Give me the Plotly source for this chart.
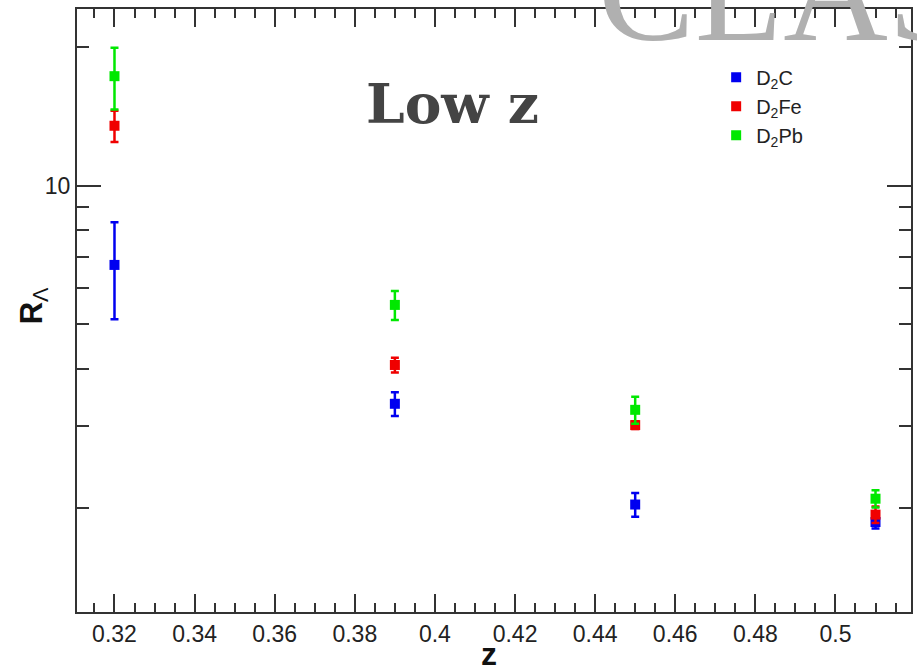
import plotly.graph_objects as go

# ---- data ----
z_vals = [0.32, 0.39, 0.45, 0.51]
r_c = [6.73, 3.36, 2.03, 1.86]
r_c_err = [1.6, 0.2, 0.12, 0.06]
r_fe = [13.5, 4.08, 3.02, 1.93]
r_fe_err = [1.05, 0.15, 0.06, 0.08]
r_pb = [17.3, 5.51, 3.26, 2.09]
r_pb_err = [2.65, 0.4, 0.22, 0.09]

series_names = ["D<sub>2</sub>C", "D<sub>2</sub>Fe", "D<sub>2</sub>Pb"]
series_colors = ["#0000f0", "#f00000", "#00e800"]

x_major = [0.32, 0.34, 0.36, 0.38, 0.40, 0.42, 0.44, 0.46, 0.48, 0.50]
x_labels = ["0.32", "0.34", "0.36", "0.38", "0.4", "0.42", "0.44", "0.46", "0.48", "0.5"]
y_major = [10]
y_labels = ["10"]
y_minor = [2, 3, 4, 5, 6, 7, 8, 9, 20]

fig = go.Figure()
for name, col, ys, es in zip(series_names, series_colors,
                             [r_c, r_fe, r_pb], [r_c_err, r_fe_err, r_pb_err]):
    fig.add_trace(go.Scatter(
        x=z_vals, y=ys, name=name, mode="markers",
        marker=dict(symbol="square", size=10, color=col),
        error_y=dict(type="data", array=es, visible=True, color=col,
                     thickness=2.5, width=4),
    ))

axis_col = "#333333"


def px_x(px):
    return (px - 76.7) / 836.8


def px_y(py):
    return (612 - py) / 602.7


fig.update_layout(
    width=917, height=672,
    margin=dict(l=77, r=3.5, t=9.3, b=60, pad=0),
    paper_bgcolor="white", plot_bgcolor="white",
    font=dict(family="Liberation Sans, Arial, sans-serif", color="#222222"),
    showlegend=True,
    legend=dict(x=px_x(718), y=px_y(58),
                xanchor="left", yanchor="top",
                bgcolor="rgba(255,255,255,0)", borderwidth=0,
                font=dict(size=20, family="Liberation Sans, Arial, sans-serif",
                          color="#222222"),
                itemwidth=30, tracegroupgap=0),
    xaxis=dict(
        range=[0.31064, 0.51886], showline=True, linecolor=axis_col, linewidth=2,
        mirror="allticks", ticks="inside", ticklen=18, tickwidth=1.5,
        tickcolor=axis_col, tickmode="array", tickvals=x_major, ticktext=x_labels,
        tickfont=dict(size=23, family="Liberation Sans, Arial, sans-serif",
                      color="#222222"),
        showgrid=False, zeroline=False,
        minor=dict(dtick=0.005, tick0=0.30, ticks="inside", ticklen=9,
                   tickwidth=1.5, tickcolor=axis_col, showgrid=False),
    ),
    yaxis=dict(
        type="log", range=[0.074, 1.384], showline=True, linecolor=axis_col,
        linewidth=2, mirror="allticks", ticks="inside", ticklen=24, tickwidth=1.5,
        tickcolor=axis_col, tickmode="array", tickvals=y_major, ticktext=y_labels,
        tickfont=dict(size=23, family="Liberation Sans, Arial, sans-serif",
                      color="#222222"),
        showgrid=False, zeroline=False,
        minor=dict(tickmode="array", tickvals=y_minor, ticks="inside", ticklen=12,
                   tickwidth=1.5, tickcolor=axis_col, showgrid=False),
    ),
)

# CLAS watermark (cut off at top)
fig.add_annotation(text="CLAS", xref="paper", yref="paper",
                   x=px_x(597), y=px_y(38), xanchor="left", yanchor="middle",
                   yshift=47, showarrow=False,
                   font=dict(size=145, family="Liberation Serif, serif",
                             color="#b0b0b0"))
# Low z label
fig.add_annotation(text="<b>Low z</b>", xref="paper", yref="paper",
                   x=px_x(453), y=px_y(104), xanchor="center", yanchor="middle",
                   showarrow=False,
                   font=dict(size=55, family="DejaVu Serif, serif", color="#444444"))
# axis titles
fig.add_annotation(text="<b>z</b>", xref="paper", yref="paper",
                   x=px_x(490), y=px_y(654), xanchor="center", yanchor="middle",
                   showarrow=False,
                   font=dict(size=32, family="Liberation Sans, Arial, sans-serif",
                             color="#111111"))
fig.add_annotation(text="<b>R</b><sub>Λ</sub>", xref="paper", yref="paper",
                   x=px_x(33), y=px_y(306), xanchor="center", yanchor="middle",
                   textangle=-90, showarrow=False,
                   font=dict(size=31, family="Liberation Sans, Arial, sans-serif",
                             color="#111111"))

fig.write_html("out.html")
